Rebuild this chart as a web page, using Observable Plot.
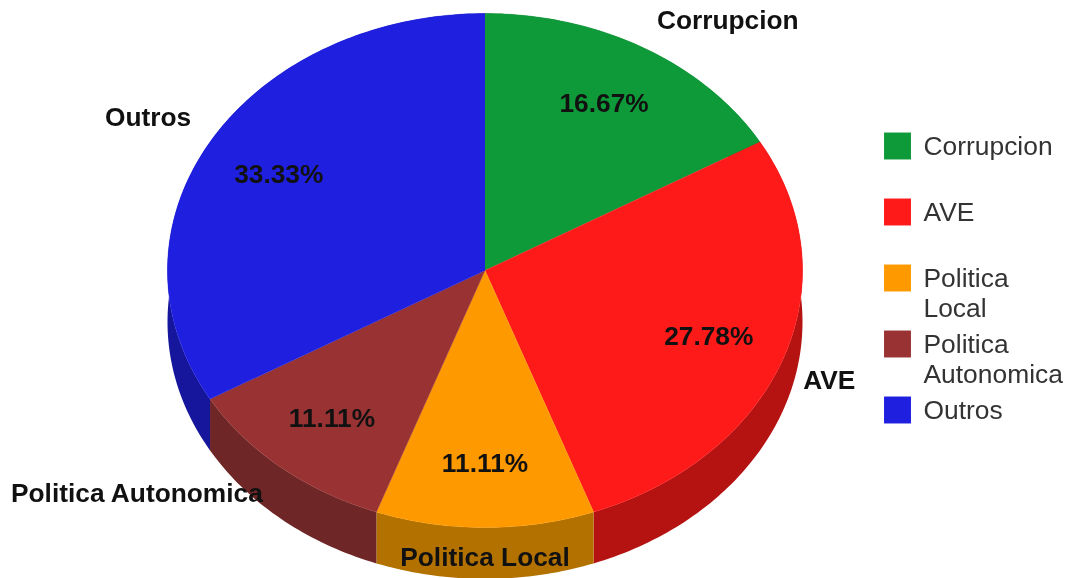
<!DOCTYPE html>
<html>
<head>
<meta charset="utf-8">
<script src="https://cdn.jsdelivr.net/npm/d3@7"></script>
<script src="https://cdn.jsdelivr.net/npm/@observablehq/plot@0.6"></script>
<style>
html,body{margin:0;padding:0;background:#fff;}
svg{display:block;filter:blur(0.55px);}
</style>
</head>
<body>
<div id="chart"></div>
<script>
const categories = ["Corrupcion", "AVE", "Politica Local", "Politica Autonomica", "Outros"];
const legendLabels = ["Corrupcion", "AVE", "Politica\nLocal", "Politica\nAutonomica", "Outros"];
const counts = [3, 5, 2, 2, 6];
const percentLabels = ["16.67%", "27.78%", "11.11%", "11.11%", "33.33%"];
const topColors = ["#0f9a3a", "#ff1a1a", "#ff9900", "#993333", "#1f1fdf"];
const sideColors = ["#0b6c29", "#b51212", "#b37200", "#6e2626", "#16169c"];

const total = d3.sum(counts);
const deg = Math.PI / 180;
const depth = 0.2;              // wall height, in units of the vertical radius
const unit = (a, r = 1, drop = 0) => ({x: r * Math.sin(a), y: r * Math.cos(a) - drop});
let acc = 0;
const slices = categories.map((name, i) => {
  const a0 = acc / total * 2 * Math.PI;
  acc += counts[i];
  const a1 = acc / total * 2 * Math.PI;
  const n = Math.max(2, Math.ceil((a1 - a0) / deg));
  const arc = d3.range(n + 1).map(k => a0 + (a1 - a0) * k / n);
  return {name, i, mid: (a0 + a1) / 2, arc};
});

const topFaces = slices.flatMap(s =>
  [{x: 0, y: 0}, ...s.arc.map(a => unit(a))].map(p => ({...p, name: s.name})));

const marks = [];
// outer walls first, then the top face over them
for (const s of slices) {
  const wall = [...s.arc.map(a => unit(a)), ...s.arc.slice().reverse().map(a => unit(a, 1, depth))];
  marks.push(Plot.line(wall, {x: "x", y: "y", fill: sideColors[s.i], stroke: "none"}));
}
marks.push(Plot.line(topFaces, {x: "x", y: "y", z: "name", fill: "name", stroke: "name", strokeWidth: 0.4}));

// percentage labels inside the slices
const font = "Liberation Sans, Arial, sans-serif";
marks.push(Plot.text(slices, {
  x: s => unit(s.mid, 0.75).x,
  y: s => unit(s.mid, 0.75).y,
  text: s => percentLabels[s.i],
  fontFamily: font, fontSize: 26.3, fontWeight: "bold", fill: "#111"
}));

// category labels around the pie, offset from the rim
const labelOffsets = [[84, -27], [46, 22], [0, 30], [-144, 26], [-62, -24]];
slices.forEach(s => {
  marks.push(Plot.text([s], {
    x: d => unit(d.mid).x,
    y: d => unit(d.mid).y,
    text: "name",
    dx: labelOffsets[s.i][0], dy: labelOffsets[s.i][1],
    fontFamily: font, fontSize: 26.3, fontWeight: "bold", fill: "#111"
  }));
});

// legend
const legendCentres = [146, 212, 278, 344, 410];
categories.forEach((name, i) => {
  marks.push(Plot.dot([name], {
    frameAnchor: "top-left", dx: 897, dy: legendCentres[i] - 0.5,
    symbol: "square", r: 15.2, fill: d => d, stroke: "none"
  }));
  marks.push(Plot.text([legendLabels[i]], {
    frameAnchor: "top-left", dx: 923, dy: legendCentres[i] - 13,
    text: d => d, textAnchor: "start", lineAnchor: "top", lineHeight: 1.14,
    fontFamily: font, fontSize: 26.4, fill: "#333"
  }));
});

const chart = Plot.plot({
  width: 1070, height: 578,
  margin: 0,
  x: {domain: [-1, 1], range: [167, 802], axis: null},
  y: {domain: [-1, 1], range: [527, 13], axis: null},
  color: {type: "ordinal", domain: categories, range: topColors},
  style: {background: "#fff"},
  marks
});
document.getElementById("chart").append(chart);
</script>
</body>
</html>
